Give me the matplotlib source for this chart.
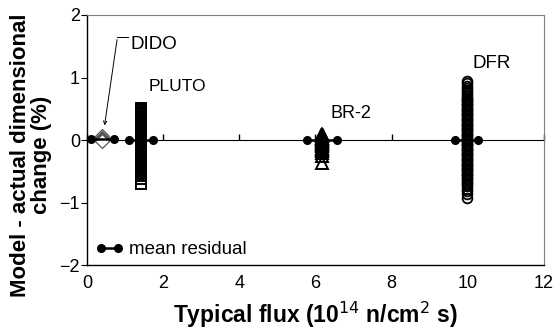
import matplotlib
matplotlib.use("Agg")
import matplotlib.pyplot as plt

plt.rcParams['font.family'] = ['Liberation Sans', 'DejaVu Sans']

# flux position of each reactor (10^14 n/cm2 s)
dido_x = 0.40
pluto_x = 1.42
br2_x = 6.18
dfr_x = 9.97

# model - actual residuals (%)
dido_y = [0.06, 0.04, 0.02, 0.0, -0.02]
pluto_y = [0.52, 0.50, 0.48, 0.45, 0.43, 0.41, 0.39, 0.37, 0.35, 0.33,
           0.31, 0.29, 0.27, 0.25, 0.23, 0.21, 0.19, 0.17, 0.15, 0.13, 0.11,
           0.09, 0.07, 0.05, 0.03, 0.01, -0.01, -0.03, -0.05, -0.07, -0.09,
           -0.11, -0.13, -0.15, -0.17, -0.19, -0.21, -0.23, -0.25, -0.27,
           -0.29, -0.31, -0.33, -0.35, -0.37, -0.39, -0.41, -0.43, -0.45,
           -0.48, -0.51, -0.54, -0.57, -0.62, -0.70]
br2_y = [0.10, 0.09, 0.07, 0.06, 0.04, 0.03, 0.01, 0.0, -0.02, -0.03, -0.05,
         -0.06, -0.08, -0.10, -0.12, -0.14, -0.16, -0.18, -0.21, -0.25, -0.36]
dfr_y = [0.95, 0.91, 0.87, 0.84, 0.80, 0.77, 0.74, 0.71, 0.68, 0.66, 0.64,
         0.62, 0.60, 0.58, 0.56, 0.54, 0.52, 0.50, 0.48, 0.46, 0.44, 0.42,
         0.40, 0.38, 0.36, 0.34, 0.32, 0.30, 0.28, 0.26, 0.24, 0.22, 0.20,
         0.18, 0.16, 0.14, 0.12, 0.10, 0.08, 0.06, 0.04, 0.02, 0.0, -0.02,
         -0.04, -0.06, -0.08, -0.10, -0.12, -0.14, -0.16, -0.18, -0.20,
         -0.22, -0.24, -0.26, -0.28, -0.30, -0.32, -0.34, -0.36, -0.38,
         -0.40, -0.42, -0.44, -0.46, -0.48, -0.50, -0.52, -0.54, -0.56,
         -0.58, -0.60, -0.62, -0.65, -0.68, -0.71, -0.74, -0.78, -0.82,
         -0.86, -0.93]

# mean residual bars: centre, half width, mean
mean_x = [dido_x, pluto_x, br2_x, dfr_x]
mean_half = [0.30, 0.32, 0.40, 0.30]
mean_y = [0.02, 0.0, 0.0, 0.0]

fig = plt.figure(figsize=(5.56, 3.33), dpi=100)
ax = fig.add_axes([0.1565, 0.204, 0.8215, 0.751])

ax.plot([dido_x] * len(dido_y), dido_y, 'D', ms=7, mfc='white', mec='#555555', mew=0.9, zorder=3)
ax.plot([pluto_x] * len(pluto_y), pluto_y, 's', ms=7, mfc='none', mec='black', mew=1.4, zorder=3)
ax.plot([br2_x] * len(br2_y), br2_y, '^', ms=8, mfc='none', mec='black', mew=1.4, zorder=3)
ax.plot([dfr_x] * len(dfr_y), dfr_y, 'o', ms=7, mfc='none', mec='black', mew=1.3, zorder=3)

for i in range(len(mean_x)):
    lab = 'mean residual' if i == 0 else None
    ax.plot([mean_x[i] - mean_half[i], mean_x[i] + mean_half[i]], [mean_y[i], mean_y[i]],
            'o-', color='black', ms=5.5, lw=1.8, label=lab, zorder=4)

ax.text(1.15, 1.52, 'DIDO', fontsize=13.5, ha='left', va='center')
ax.annotate('', xy=(0.45, 0.19), xytext=(0.8, 1.65),
            arrowprops=dict(arrowstyle='->', color='black', lw=0.7, mutation_scale=6))
ax.plot([0.8, 1.08], [1.65, 1.65], color='black', lw=0.7)
ax.text(1.62, 0.85, 'PLUTO', fontsize=12.5, ha='left', va='center')
ax.text(6.4, 0.42, 'BR-2', fontsize=13, ha='left', va='center')
ax.text(10.12, 1.22, 'DFR', fontsize=13.5, ha='left', va='center')

ax.set_xlim(0, 12)
ax.set_ylim(-2, 2)
ax.set_xticks(range(0, 13, 2))
ax.set_yticks(range(-2, 3))
ax.tick_params(axis='x', length=0, labelsize=13, pad=7)
ax.tick_params(axis='y', direction='out', length=4, labelsize=13, pad=1)

# zero line acts as a second x axis with ticks hanging down
sec = ax.secondary_xaxis(0.5)
sec.set_xticks(range(0, 13, 2))
sec.set_xticklabels([])
sec.tick_params(direction='out', length=4, width=1)
sec.spines['bottom'].set_linewidth(1)

for s in ['top', 'right']:
    ax.spines[s].set_color('#808080')
for s in ['left', 'bottom']:
    ax.spines[s].set_linewidth(1)

ax.set_xlabel('Typical flux (10$^{14}$ n/cm$^2$ s)', fontsize=16.5, fontweight='bold', labelpad=6)
ax.set_ylabel('Model - actual dimensional\nchange (%)', fontsize=16, fontweight='bold',
              linespacing=1.05)
ax.yaxis.set_label_coords(-0.076, 0.44)
ax.legend(loc='lower left', frameon=False, fontsize=13.5, numpoints=2, handlelength=1.5,
          handletextpad=0.3, borderaxespad=0.3, bbox_to_anchor=(-0.01, -0.025))

fig.savefig('out.png', dpi=100)
